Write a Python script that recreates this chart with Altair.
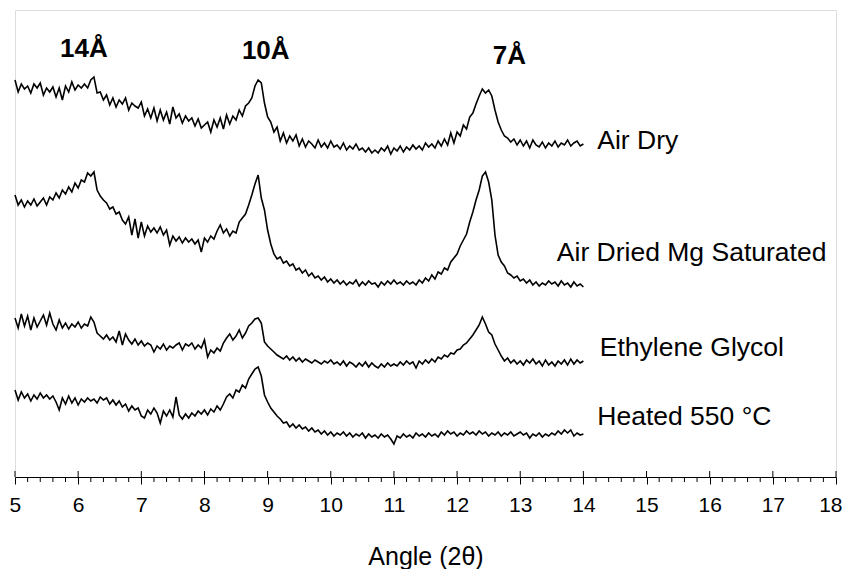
import altair as alt
import pandas as pd

# ---------------- data ----------------
angles = [round(5 + 0.05 * i, 2) for i in range(181)]  # 5.00 .. 14.00 in 0.05 steps

air_dry = [397,385,393,388,391,384,393,389,394,382,389,385,390,380,389,377,391,385,395,387,
           392,389,393,389,397,400,384,385,377,382,372,379,370,377,373,379,367,374,371,369,
           375,361,368,359,369,356,367,357,365,353,370,359,363,354,361,356,359,351,358,349,
           352,355,345,357,350,359,348,362,353,361,357,367,361,371,374,379,391,397,394,374,
           360,355,345,350,336,344,334,341,336,342,331,338,330,336,333,329,337,330,334,329,
           336,330,332,328,334,327,331,328,333,327,329,325,329,324,327,324,329,326,331,323,
           329,326,331,325,330,327,332,328,331,327,334,330,333,329,336,331,338,332,344,334,
           345,341,352,348,360,364,373,381,388,384,387,381,367,355,347,341,339,335,338,332,
           337,331,336,329,337,332,330,335,329,334,331,336,330,334,332,337,331,334,336,331,
           333]

mg_saturated = [282,272,277,270,276,272,278,271,275,279,272,280,277,284,279,287,283,290,285,294,
                289,297,295,304,301,305,287,281,277,274,268,270,263,265,257,253,260,242,258,239,
                255,241,251,245,249,244,250,242,247,232,241,236,240,234,239,235,238,233,237,225,
                239,235,241,238,246,252,244,248,241,246,244,255,259,263,272,282,293,302,279,267,
                247,233,223,218,220,214,216,211,213,207,209,204,207,201,204,199,201,197,200,195,
                198,194,197,193,196,192,195,193,197,191,195,192,196,193,194,190,195,192,196,193,
                197,193,195,192,196,193,195,192,197,194,199,196,202,198,205,203,209,207,215,219,
                223,231,237,243,255,265,277,287,301,305,295,277,242,222,215,211,204,202,199,201,
                196,198,194,197,192,195,191,194,192,196,193,195,191,196,192,194,190,195,191,193,
                190]

ethylene_glycol = [159,149,163,151,161,147,159,150,156,162,152,164,153,147,157,149,154,148,153,150,
                   155,149,153,151,160,155,144,141,138,142,137,140,135,146,132,143,137,133,138,132,
                   136,131,134,132,125,131,128,133,127,131,129,132,134,127,133,131,134,128,132,129,
                   137,120,127,124,129,126,134,139,143,137,141,147,139,144,151,154,158,159,154,135,
                   131,128,125,122,120,118,121,117,120,116,119,115,118,116,114,117,115,113,116,114,
                   117,113,115,112,116,111,115,113,110,114,111,115,110,114,111,109,113,110,114,111,
                   113,111,115,112,116,113,115,109,116,113,117,114,118,115,120,118,122,120,124,123,
                   127,128,132,134,138,142,147,152,160,153,145,142,133,127,121,116,119,114,117,113,
                   116,112,117,114,118,113,116,111,117,112,115,111,116,113,117,112,118,113,117,114,
                   116]

heated_550 = [87,77,85,79,83,76,82,78,84,79,82,78,81,75,67,79,73,81,74,79,
              72,78,75,79,76,78,74,80,77,79,73,77,72,76,70,73,66,71,67,69,
              61,59,67,63,69,64,54,66,61,67,60,80,62,58,63,59,64,61,66,63,
              67,62,68,65,71,67,73,80,83,79,87,85,92,89,98,103,108,110,101,82,
              75,69,65,61,58,54,55,50,53,49,52,48,50,46,49,45,47,43,46,42,
              45,41,44,42,45,41,44,40,43,41,44,39,43,40,42,39,43,40,42,38,
              33,41,39,43,40,42,39,44,41,43,40,44,41,43,40,45,42,46,43,45,
              41,44,42,46,43,45,42,46,43,45,41,44,42,45,41,44,42,45,41,43,
              45,42,44,39,43,41,44,40,43,41,44,42,46,43,47,44,47,41,44,42,
              43]

series_names = ["Air Dry", "Air Dried Mg Saturated", "Ethylene Glycol", "Heated 550 °C"]
series_values = [air_dry, mg_saturated, ethylene_glycol, heated_550]

# label anchors in data units (angle, intensity)
label_angle = [14.22, 13.58, 14.26, 14.22]
label_level = [336, 224, 129, 60]

peak_text = ["14Å", "10Å", "7Å"]
peak_angle = [6.09, 8.97, 12.83]
peak_level = [428, 426, 421]

major_ticks = list(range(5, 19))
minor_ticks = [round(5 + 0.2 * i, 1) for i in range(66) if i % 5 != 0]

# ---------------- tables ----------------
rows = []
for name, vals in zip(series_names, series_values):
    for a, v in zip(angles, vals):
        rows.append({"series": name, "angle": a, "intensity": v})
df = pd.DataFrame(rows)

labels_df = pd.DataFrame({"text": series_names, "angle": label_angle, "intensity": label_level})
peaks_df = pd.DataFrame({"text": peak_text, "angle": peak_angle, "intensity": peak_level})
major_df = pd.DataFrame({"angle": major_ticks})
minor_df = pd.DataFrame({"angle": minor_ticks})

W, H = 821, 467
FONT = "Liberation Sans"

xscale = alt.Scale(domain=[5, 18], nice=False, zero=False)
yscale = alt.Scale(domain=[0, 467], nice=False, zero=False)

lines = alt.Chart(df).mark_line(color="black", strokeWidth=1.6).encode(
    x=alt.X("angle:Q", scale=xscale,
            axis=alt.Axis(values=major_ticks, format="d", title="Angle (2θ)",
                          tickSize=7, tickColor="black", tickWidth=1,
                          domainColor="black", domainWidth=1.2,
                          labelFont=FONT, labelFontSize=21, labelColor="black",
                          labelPadding=10, labelFlush=True, labelFlushOffset=6,
                          titleFont=FONT, titleFontSize=25,
                          titleFontWeight="normal", titleColor="black",
                          titlePadding=29, grid=False)),
    y=alt.Y("intensity:Q", scale=yscale, axis=None),
    detail="series:N",
)

series_labels = alt.Chart(labels_df).mark_text(
    align="left", baseline="middle", font=FONT, fontSize=26.5, color="black"
).encode(x=alt.X("angle:Q", scale=xscale), y=alt.Y("intensity:Q", scale=yscale), text="text:N")

peak_labels = alt.Chart(peaks_df).mark_text(
    align="center", baseline="middle", font=FONT, fontSize=26, fontWeight="bold", color="black"
).encode(x=alt.X("angle:Q", scale=xscale), y=alt.Y("intensity:Q", scale=yscale), text="text:N")

minor_rules = alt.Chart(minor_df).mark_rule(color="black", strokeWidth=1).encode(
    x=alt.X("angle:Q", scale=xscale), y=alt.value(H), y2=alt.value(H + 5)
)
major_inner = alt.Chart(major_df).mark_rule(color="black", strokeWidth=1).encode(
    x=alt.X("angle:Q", scale=xscale), y=alt.value(H - 6), y2=alt.value(H)
)

chart = alt.layer(lines, series_labels, peak_labels, minor_rules, major_inner).properties(
    width=W, height=H,
    autosize=alt.AutoSizeParams(type="none"),
    padding={"left": 7, "top": 2, "right": 7, "bottom": 92},
).configure_view(stroke="black", strokeWidth=1.5).configure(background="white")

chart.save("out.html", embed_options={"renderer": "svg", "actions": False})
